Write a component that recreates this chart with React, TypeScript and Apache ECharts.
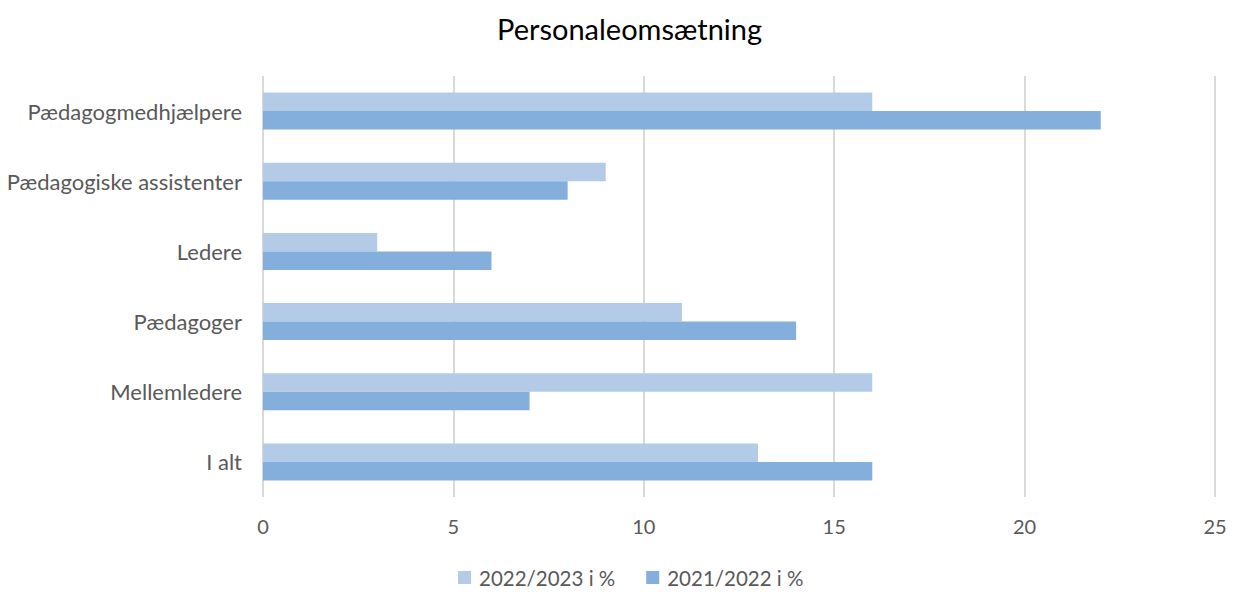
import React, { useEffect, useRef } from "react";
import * as echarts from "echarts";

const categories = ["I alt", "Mellemledere", "Pædagoger", "Ledere", "Pædagogiske assistenter", "Pædagogmedhjælpere"];
const series2223 = [13, 16, 11, 3, 9, 16];
const series2122 = [16, 7, 14, 6, 8, 22];
const seriesNames = ["2022/2023 i %", "2021/2022 i %"];
const xTicks = [0, 5, 10, 15, 20, 25];

const FONT = "Lato, 'Open Sans', sans-serif";

export default function App() {
  const ref = useRef<HTMLDivElement>(null);
  useEffect(() => {
    if (!ref.current) return;
    const chart = echarts.init(ref.current, undefined, { renderer: "svg" });
    chart.setOption({
      animation: false,
      title: {
        text: "Personaleomsætning",
        left: 492,
        top: 9,
        textStyle: { fontFamily: FONT, fontSize: 29, fontWeight: "normal", color: "#000" },
      },
      legend: {
        data: seriesNames,
        bottom: 1,
        left: 453,
        itemWidth: 13,
        itemHeight: 13,
        itemGap: 31,
        icon: "rect",
        textStyle: { fontFamily: FONT, fontSize: 20.5, color: "#595959", padding: [0, 0, 0, 3] },
      },
      grid: { left: 263, right: 21, top: 76, bottom: 97, containLabel: false },
      xAxis: {
        type: "value",
        min: xTicks[0],
        max: xTicks[xTicks.length - 1],
        interval: 5,
        axisLine: { show: false },
        axisTick: { show: false },
        splitLine: { show: true, lineStyle: { color: "#d9d9d9", width: 2 } },
        axisLabel: { fontFamily: FONT, fontSize: 20, color: "#595959", margin: 19 },
      },
      yAxis: {
        type: "category",
        data: categories,
        axisLine: { show: false },
        axisTick: { show: false },
        axisLabel: { fontFamily: FONT, fontSize: 22, color: "#595959", margin: 21 },
      },
      series: [
        {
          name: seriesNames[0],
          type: "bar",
          data: series2223,
          barWidth: 18.5,
          barGap: "0%",
          itemStyle: { color: "#b4cbe8" },
        },
        {
          name: seriesNames[1],
          type: "bar",
          data: series2122,
          barWidth: 18.5,
          barGap: "0%",
          itemStyle: { color: "#84aedb" },
        },
      ],
    });
    return () => chart.dispose();
  }, []);
  return <div ref={ref} style={{ width: 1236, height: 594, position: "absolute", left: 0, top: 0 }} />;
}
